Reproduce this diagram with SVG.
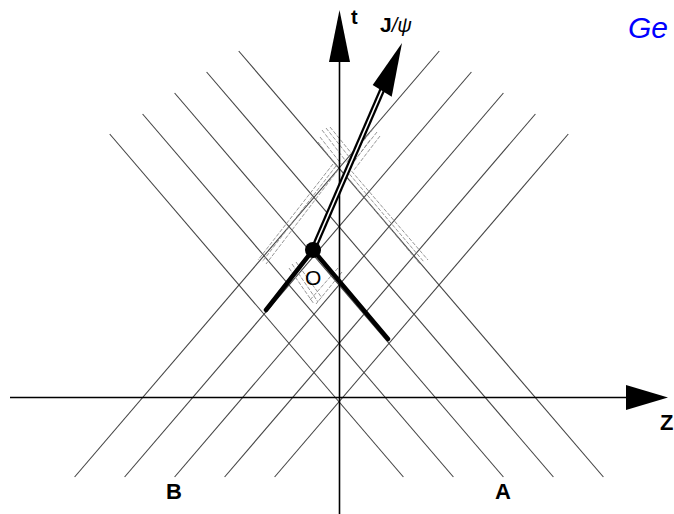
<svg xmlns="http://www.w3.org/2000/svg" width="674" height="514" viewBox="0 0 674 514">
<style>
.grid{stroke:#444;stroke-width:1.1;fill:none}
.hatch{stroke:#8a8a8a;stroke-width:0.9;fill:none;stroke-dasharray:4 1.5}
.axis{stroke:#000;stroke-width:1.6;fill:none}
.thick{stroke:#000;stroke-width:4.5;fill:none;stroke-linecap:round}
.lbl{font-family:"Liberation Sans",Arial,sans-serif;fill:#000}
</style>
<rect width="674" height="514" fill="#fff"/>
<g id="grid">
<line class="grid" x1="238.7" y1="51" x2="603.4" y2="477"/>
<line class="grid" x1="206.6" y1="72" x2="553.4" y2="477"/>
<line class="grid" x1="174.6" y1="93" x2="503.4" y2="477"/>
<line class="grid" x1="142.6" y1="114" x2="453.4" y2="477"/>
<line class="grid" x1="109.7" y1="134" x2="403.4" y2="477"/>
<line class="grid" x1="439.3" y1="51" x2="74.6" y2="477"/>
<line class="grid" x1="471.4" y1="72" x2="124.6" y2="477"/>
<line class="grid" x1="503.4" y1="93" x2="174.6" y2="477"/>
<line class="grid" x1="535.4" y1="114" x2="224.6" y2="477"/>
<line class="grid" x1="568.3" y1="134" x2="274.6" y2="477"/>
</g>
<g id="hatching">
<line class="hatch" x1="322" y1="130" x2="345" y2="160"/>
<line class="hatch" x1="326" y1="128" x2="350" y2="158"/>
<line class="hatch" x1="330" y1="127" x2="352" y2="154"/>
<line class="hatch" x1="320" y1="137" x2="342" y2="165"/>
<line class="hatch" x1="318" y1="142" x2="338" y2="168"/>
<line class="hatch" x1="377" y1="132" x2="350" y2="166"/>
<line class="hatch" x1="373" y1="129" x2="346" y2="163"/>
<line class="hatch" x1="370" y1="140" x2="348" y2="170"/>
<line class="hatch" x1="380" y1="136" x2="354" y2="170"/>
<line class="hatch" x1="346" y1="170" x2="424" y2="262"/>
<line class="hatch" x1="348" y1="167" x2="428" y2="260"/>
<line class="hatch" x1="343" y1="172" x2="420" y2="264"/>
<line class="hatch" x1="336" y1="166" x2="262" y2="262"/>
<line class="hatch" x1="333" y1="164" x2="258" y2="260"/>
<line class="hatch" x1="338" y1="170" x2="266" y2="264"/>
<line class="hatch" x1="292" y1="264" x2="318" y2="302"/>
<line class="hatch" x1="296" y1="262" x2="322" y2="298"/>
<line class="hatch" x1="289" y1="268" x2="314" y2="304"/>
<line class="hatch" x1="338" y1="268" x2="310" y2="300"/>
<line class="hatch" x1="342" y1="272" x2="316" y2="304"/>
</g>
<g id="t-axis">
<line class="axis" x1="339.5" y1="514" x2="339.5" y2="60"/>
<polygon points="339.5,10 329,62 350,62" fill="#000"/>
<text class="lbl" x="351" y="24" font-size="20" font-weight="bold">t</text>
</g>
<g id="z-axis">
<line class="axis" x1="10" y1="397.5" x2="628" y2="397.5"/>
<polygon points="668,397.5 626,385 626,410" fill="#000"/>
<text class="lbl" x="660" y="430" font-size="22" font-weight="bold">Z</text>
</g>
<g id="jpsi">
<line x1="313" y1="250" x2="383" y2="88" stroke="#000" stroke-width="6"/>
<line x1="313" y1="250" x2="383" y2="88" stroke="#fff" stroke-width="1.6"/>
<polygon points="402,43 372.7,85 391.7,96.7" fill="#000"/>
<text class="lbl" x="380" y="32" font-size="21"><tspan font-weight="bold">J</tspan><tspan font-style="italic" font-size="20">/ψ</tspan></text>
</g>
<g id="O">
<line class="thick" x1="313" y1="250" x2="266" y2="310"/>
<line class="thick" x1="313" y1="250" x2="388" y2="339"/>
<circle cx="313" cy="250" r="8" fill="#000"/>
<text class="lbl" x="305" y="285" font-size="21">O</text>
</g>
<g id="B"><text class="lbl" x="166" y="499" font-size="22" font-weight="bold">B</text></g>
<g id="A"><text class="lbl" x="495" y="499" font-size="22" font-weight="bold">A</text></g>
<g id="Ge"><text x="628" y="38" font-family="'Liberation Sans',Arial,sans-serif" font-size="30" font-style="italic" fill="#0000ff">Ge</text></g>
</svg>
